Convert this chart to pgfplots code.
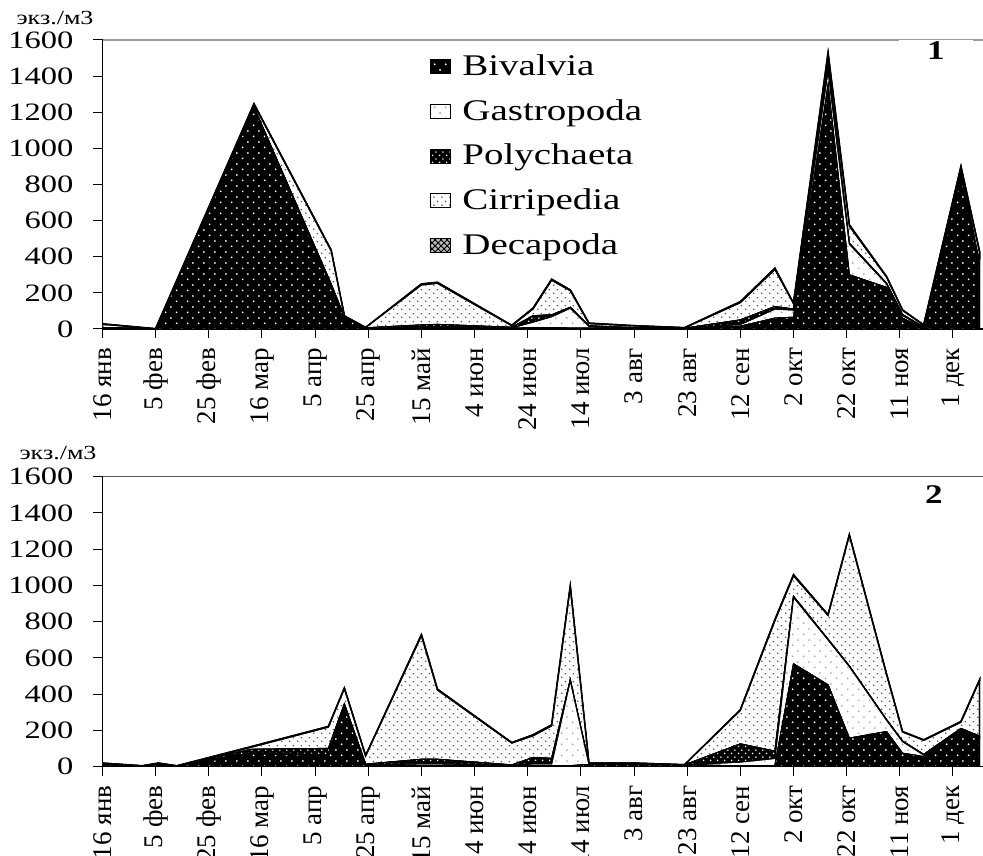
\documentclass[border=0pt]{standalone}
\usepackage{fontspec}
\setmainfont{Liberation Serif}[FakeStretch=1.3]
\newfontfamily\plainserif{Liberation Serif}
\usepackage{pgfplots}
\pgfplotsset{compat=1.18}
\usepackage{pgfplotstable}
\usetikzlibrary{patterns,patterns.meta}

\tikzdeclarepattern{
  name=sparsedots, type=uncolored,
  bounding box={(0pt,0pt) and (5.4pt,5.4pt)},
  tile size={(5.4pt,5.4pt)},
  code={\fill (1.35pt,1.35pt) circle (0.5pt); \fill (4.05pt,4.05pt) circle (0.5pt);}
}
\tikzdeclarepattern{
  name=densedots, type=uncolored,
  bounding box={(0pt,0pt) and (3.6pt,3.6pt)},
  tile size={(3.6pt,3.6pt)},
  code={\fill (0.9pt,0.9pt) circle (0.45pt); \fill (2.7pt,2.7pt) circle (0.45pt);}
}
\tikzdeclarepattern{
  name=cirrdots, type=uncolored,
  bounding box={(0pt,0pt) and (4pt,4pt)},
  tile size={(4pt,4pt)},
  code={\fill (1pt,1pt) circle (0.5pt); \fill (3pt,3pt) circle (0.5pt);}
}

\pgfplotstableread{
day biv gast poly cirr dec
16 3 5 0 18 2
36 0 0 0 1 0
73 1220 5 3 15 3
102 234 10 5 185 3
107 62 2 2 5 1
115 3 2 1 2 0
136 5 5 12 222 5
142 5 5 15 228 5
170 3 3 3 9 2
178 8 30 35 38 4
185 8 60 10 192 5
192 5 110 5 92 4
199 5 10 2 13 2
216 3 3 1 10 1
235 2 1 1 2 1
256 15 10 25 96 5
269 60 50 14 206 6
276 65 40 5 30 2
289 1350 80 20 60 17
297 300 170 5 95 6
311 230 20 3 34 3
317 60 15 5 23 2
325 3 5 2 10 2
339 845 20 5 25 4
346 335 20 5 63 5
}\tabA

\pgfplotstableread{
day biv gast poly cirr dec
16 10 3 2 3 1
31 2 1 0 1 0
37 10 3 2 3 1
44 2 1 0 1 0
72 70 5 20 12 3
101 60 5 35 118 3
107 330 10 5 85 2
115 3 5 5 45 2
136 5 10 25 682 5
142 5 10 25 383 4
170 3 3 3 121 2
178 5 10 35 120 5
185 5 10 30 180 5
192 5 470 3 510 5
199 12 3 1 3 0
216 12 3 1 3 0
235 8 1 0 1 0
256 5 20 100 185 3
269 5 40 40 720 5
276 567 367 5 114 5
289 451 248 3 132 3
297 157 395 3 720 3
311 193 63 3 248 3
317 74 64 3 50 2
325 55 9 3 78 2
339 195 5 10 35 3
346 155 8 5 307 3
}\tabB

\pgfplotsset{
  myaxis/.style={
    scale only axis, width=440.25pt, anchor=south west,
    xmin=16, xmax=347.3, ymin=0, ymax=1600,
    enlargelimits=false,
    stack plots=y, area legend,
    axis lines=left, axis line style={-, black, line width=0.6pt},
    xtick={16,36,...,336},
    xticklabels={16 янв,5 фев,25 фев,16 мар,5 апр,25 апр,15 май,4 июн,24 июн,14 июл,3 авг,23 авг,12 сен,2 окт,22 окт,11 ноя,1 дек},
    ytick={0,200,...,1600},
    tick align=outside, major tick length=4.5pt,
    tick style={black, line width=0.5pt},
    xticklabel style={font=\plainserif\fontsize{13.5}{15}\selectfont, rotate=90, anchor=east},
    xticklabel shift=1.5pt,
    yticklabel style={font=\fontsize{12.5}{14}\selectfont},
    yticklabel shift=6.5pt,
    /pgf/number format/assume math mode=true,
    /pgf/number format/1000 sep={},
    legend image code/.code={\draw[##1, line width=0.4pt] (0pt,-3.5pt) rectangle (10pt,3.5pt);},
  },
  bivst/.style={draw=black, line width=0.5pt, fill=black, postaction={pattern=sparsedots, pattern color=white}},
  gastst/.style={draw=black, line width=0.5pt, fill=white, postaction={pattern=sparsedots, pattern color=gray!70}},
  polyst/.style={draw=black, line width=0.5pt, fill=black, postaction={pattern=densedots, pattern color=white}},
  cirrst/.style={draw=black, line width=0.6pt, fill=white, postaction={pattern=cirrdots, pattern color=black!65}},
  decst/.style={draw=black, line width=0.8pt, fill=gray!55, postaction={pattern=crosshatch, pattern color=black}},
}

\begin{document}
\begin{tikzpicture}
\useasboundingbox (0,0) rectangle (491.5pt,427.5pt);
\begin{axis}[myaxis, height=144.5pt, at={(51.25pt,263pt)},
  legend style={at={(0.371,0.965)}, anchor=north west, draw=none, fill=none,
    font=\fontsize{15}{17}\selectfont, row sep=6.5pt, inner sep=0pt,
    /tikz/every odd column/.append style={column sep=4pt}},
  legend cell align=left]
\addplot[bivst] table[x=day,y=biv]{\tabA} \closedcycle;
\addplot[gastst] table[x=day,y=gast]{\tabA} \closedcycle;
\addplot[polyst] table[x=day,y=poly]{\tabA} \closedcycle;
\addplot[cirrst] table[x=day,y=cirr]{\tabA} \closedcycle;
\addplot[decst] table[x=day,y=dec]{\tabA} \closedcycle;
\legend{Bivalvia,Gastropoda,Polychaeta,Cirripedia,Decapoda}
\draw[gray!80, line width=0.6pt] (rel axis cs:0,1) -- (rel axis cs:1,1);
\end{axis}
\begin{axis}[myaxis, height=145pt, at={(51.25pt,44.2pt)}]
\addplot[bivst] table[x=day,y=biv]{\tabB} \closedcycle;
\addplot[gastst] table[x=day,y=gast]{\tabB} \closedcycle;
\addplot[polyst] table[x=day,y=poly]{\tabB} \closedcycle;
\addplot[cirrst] table[x=day,y=cirr]{\tabB} \closedcycle;
\addplot[decst] table[x=day,y=dec]{\tabB} \closedcycle;
\draw[black!65, line width=0.6pt] (rel axis cs:0,1) -- (rel axis cs:1,1);
\end{axis}
\node[font=\fontsize{10}{11}\selectfont, inner sep=1pt] at (27.5pt,418.5pt) {экз./м3};
\node[font=\fontsize{10}{11}\selectfont, inner sep=1pt] at (29pt,201pt) {экз./м3};
\node[fill=white, minimum width=37pt, inner sep=1pt, font=\bfseries\fontsize{13.5}{15}\selectfont] at (468pt,402pt) {1};
\node[fill=white, minimum width=37pt, inner sep=1pt, font=\bfseries\fontsize{13.5}{15}\selectfont] at (467pt,180pt) {2};
\end{tikzpicture}
\end{document}
